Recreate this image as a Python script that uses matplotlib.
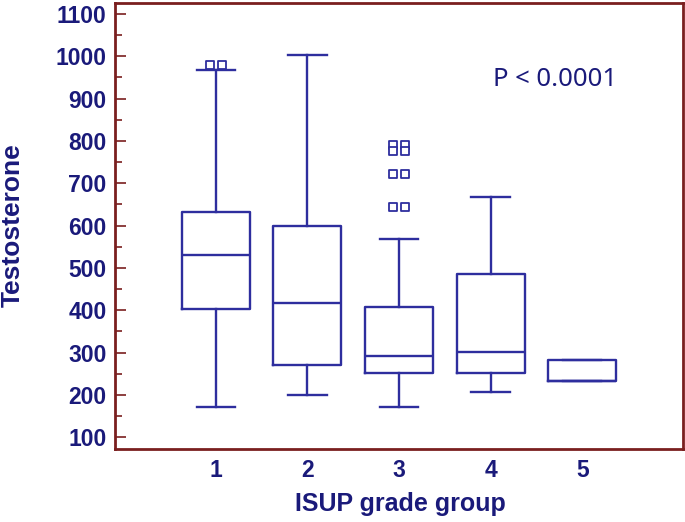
import matplotlib
matplotlib.use("Agg")
import matplotlib.pyplot as plt
from matplotlib.ticker import MultipleLocator

plt.rcParams['font.family'] = ['Liberation Sans', 'DejaVu Sans']

groups = [1, 2, 3, 4, 5]
whislo = [171, 199, 171, 206, 232]
q1 = [403, 270, 251, 251, 232]
med = [530, 417, 291, 301, 232]
q3 = [632, 599, 407, 485, 282]
whishi = [967, 1003, 568, 667, 282]
# outliers: (group, value) pairs, drawn in pairs side by side
out_group = [1, 1, 3, 3, 3, 3, 3, 3, 3, 3]
out_value = [980, 980, 790, 790, 776, 776, 722, 722, 644, 644]
out_side = [-1, 1, -1, 1, -1, 1, -1, 1, -1, 1]

box_c = '#2E2E9E'
text_c = '#1A1A7A'
spine_c = '#7A1F1F'

fig = plt.figure(figsize=(6.85, 5.22), dpi=100)
ax = fig.add_axes([115/685, 73/522, (683-115)/685, (449-3)/522])

stats = []
for i in range(len(groups)):
    stats.append(dict(whislo=whislo[i], q1=q1[i], med=med[i], q3=q3[i],
                      whishi=whishi[i], fliers=[]))
lp = dict(color=box_c, linewidth=1.7)
ax.bxp(stats, positions=groups, widths=0.74, showfliers=False,
       boxprops=lp, whiskerprops=lp, capprops=lp, medianprops=lp,
       capwidths=0.42, manage_ticks=False)

xs = [g + 0.065 * s for g, s in zip(out_group, out_side)]
ax.scatter(xs, out_value, marker='s', s=32, facecolors='white',
           edgecolors=box_c, linewidths=1.3, zorder=3)

ax.set_xlim(-0.1, 6.1)
ax.set_ylim(72, 1126)
ax.set_xticks(groups)
ax.set_yticks(range(100, 1101, 100))
ax.yaxis.set_minor_locator(MultipleLocator(50))
ax.tick_params(axis='x', length=0, pad=7, labelsize=16.5, labelcolor=text_c)
ax.tick_params(axis='y', which='major', direction='in', length=8, width=1.2,
               color=spine_c, labelsize=16.5, labelcolor=text_c, pad=6)
ax.tick_params(axis='y', which='minor', direction='in', length=5, width=1.2,
               color=spine_c)
for lab in ax.get_xticklabels() + ax.get_yticklabels():
    lab.set_fontweight('bold')

for sp in ax.spines.values():
    sp.set_color(spine_c)
    sp.set_linewidth(2)

fig.text(400/685, 1 - 504/522, 'ISUP grade group', fontsize=18, fontweight='bold',
         color=text_c, ha='center', va='center')
fig.text(13/685, 1 - 225/522, 'Testosterone', fontsize=19, fontweight='bold',
         color=text_c, ha='center', va='center', rotation=90)
ax.text(0.665, 0.814, 'P < 0.0001', transform=ax.transAxes, fontsize=18.5,
        color=text_c, family=['Noto Sans', 'DejaVu Sans'], va='baseline')

fig.savefig('out.png', dpi=100)
